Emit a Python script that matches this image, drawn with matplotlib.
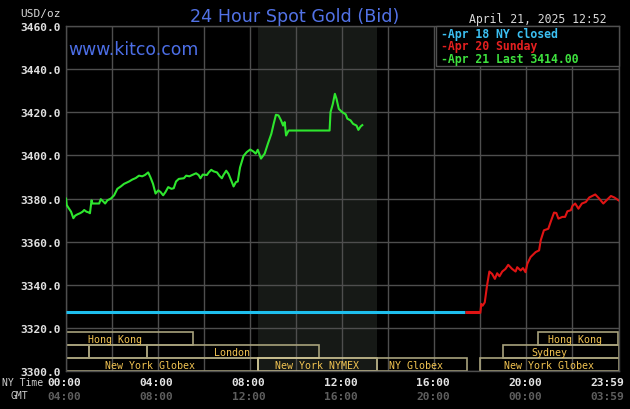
import matplotlib
matplotlib.use("Agg")
import matplotlib.pyplot as plt
from matplotlib.patches import Rectangle
import matplotlib.transforms as mtransforms

# ---------------- data ----------------
cyan_h = [0.0, 17.33]
cyan_p = [3327.3, 3327.3]

red_h = [17.33, 18.0, 18.04, 18.10, 18.19, 18.29, 18.39, 18.51, 18.63, 18.73, 18.83, 18.95,
         19.09, 19.21, 19.38, 19.53, 19.60, 19.75, 19.85, 19.96, 20.04, 20.18, 20.40, 20.55,
         20.62, 20.76, 20.95, 21.05, 21.20, 21.30, 21.39, 21.56, 21.68, 21.78, 21.93, 22.0,
         22.12, 22.26, 22.41, 22.58, 22.73, 22.99, 23.16, 23.34, 23.48, 23.67, 23.82, 24.0]
red_p = [3327.3, 3327.3, 3331.2, 3330.4, 3331.9, 3339.7, 3346.2, 3345.1, 3342.8, 3345.4, 3344.0, 3346.2,
         3347.4, 3349.3, 3347.4, 3346.2, 3348.2, 3346.7, 3347.8, 3345.9, 3349.8, 3352.9, 3355.2, 3356.0,
         3360.6, 3365.3, 3366.0, 3369.1, 3373.5, 3373.3, 3370.7, 3371.5, 3371.5, 3374.1, 3374.6, 3376.6,
         3377.7, 3375.3, 3377.7, 3378.4, 3380.5, 3381.9, 3380.0, 3377.7, 3379.2, 3381.2, 3380.5, 3379.2]

green_h = [0.0, 0.03, 0.12, 0.22, 0.32, 0.40, 0.50, 0.61, 0.72, 0.79, 0.89, 0.98, 1.04, 1.11, 1.15,
           1.30, 1.44, 1.51, 1.63, 1.70, 1.80, 1.95, 2.09, 2.23, 2.38, 2.52, 2.74, 2.88, 3.03, 3.17,
           3.31, 3.43, 3.57, 3.67, 3.78, 3.89, 4.01, 4.11, 4.22, 4.32, 4.44, 4.58, 4.68, 4.78, 4.90,
           5.12, 5.22, 5.36, 5.48, 5.65, 5.76, 5.84, 5.94, 6.12, 6.20, 6.31, 6.41, 6.56, 6.66, 6.77,
           6.84, 6.96, 7.06, 7.18, 7.28, 7.38, 7.46, 7.56, 7.71, 7.85, 8.0, 8.14, 8.24, 8.33, 8.47,
           8.63, 8.77, 8.92, 9.02, 9.12, 9.23, 9.34, 9.43, 9.50, 9.56, 9.67, 11.45, 11.49, 11.59,
           11.68, 11.75, 11.85, 12.0, 12.15, 12.22, 12.36, 12.47, 12.62, 12.70, 12.80, 12.87]
green_p = [3380.0, 3377.0, 3375.5, 3373.9, 3370.9, 3372.1, 3372.7, 3373.2, 3373.9, 3374.7, 3373.9, 3373.6,
           3373.2, 3379.2, 3377.7, 3377.7, 3377.7, 3379.7, 3378.5, 3377.7, 3379.2, 3380.0, 3381.5, 3384.5,
           3385.6, 3386.8, 3387.9, 3388.8, 3389.5, 3390.6, 3390.3, 3390.9, 3392.1, 3389.8, 3386.8, 3382.3,
           3383.8, 3383.0, 3381.5, 3383.0, 3385.3, 3384.5, 3384.8, 3387.9, 3389.1, 3389.4, 3390.6, 3390.3,
           3390.9, 3391.7, 3390.9, 3389.4, 3391.1, 3390.9, 3392.1, 3393.3, 3392.6, 3392.1, 3390.6, 3389.4,
           3390.9, 3392.9, 3391.4, 3388.3, 3385.6, 3387.6, 3387.9, 3394.4, 3399.7, 3401.5, 3402.7, 3401.8,
           3400.8, 3402.6, 3398.5, 3400.8, 3405.4, 3410.0, 3414.6, 3418.8, 3418.5, 3416.2, 3413.8, 3415.4,
           3409.2, 3411.5, 3411.5, 3420.0, 3423.8, 3428.5, 3426.2, 3421.5, 3420.0, 3419.0, 3417.0, 3416.2,
           3414.6, 3413.8, 3411.8, 3413.4, 3414.0]

y_ticks = [3300, 3320, 3340, 3360, 3380, 3400, 3420, 3440, 3460]
ny_ticks = [0, 4, 8, 12, 16, 20, 24]
ny_labels = ["00:00", "04:00", "08:00", "12:00", "16:00", "20:00", "23:59"]
gmt_labels = ["04:00", "08:00", "12:00", "16:00", "20:00", "00:00", "03:59"]

legend_labels = ["Apr 18 NY closed", "Apr 20 Sunday", "Apr 21 Last 3414.00"]

session_names = ["Hong Kong", "", "", "London", "New York Globex", "New York NYMEX",
                 "NY Globex", "New York Globex", "Sydney", "Hong Kong"]
session_rows = [2, 1, 1, 1, 0, 0, 0, 0, 1, 2]
session_start = [0.0, 0.0, 1.0, 3.5, 0.0, 8.333, 13.5, 18.0, 19.0, 20.5]
session_end = [5.5, 1.0, 3.5, 11.0, 8.333, 13.5, 17.4, 24.0, 24.0, 24.0]
session_label_at = [2.13, 0, 0, 7.2, 3.66, 10.92, 15.2, 21.0, 21.0, 22.1]

nymex_span = (8.333, 13.5)

# ---------------- figure ----------------
W, H = 630, 410
fig = plt.figure(figsize=(6.3, 4.1), dpi=100, facecolor="#000000")

def fx(px):
    return px / W

def fy(py):
    return 1 - py / H

ax_l, ax_r, ax_t, ax_b = 66, 618.5, 26.8, 372.3
ax = fig.add_axes([fx(ax_l), fy(ax_b), (ax_r - ax_l) / W, (ax_b - ax_t) / H])
ax.set_facecolor("#000000")
ax.set_xlim(0, 24)
ax.set_ylim(3300, 3460)

grid_c = "#4e4e4e"
for s in ax.spines.values():
    s.set_color(grid_c)
    s.set_linewidth(1.0)

ax.set_xticks(range(0, 25, 2))
ax.set_xticklabels([])
ax.set_yticks(y_ticks)
ax.set_yticklabels([f"{v:.1f}" for v in y_ticks])
ax.tick_params(axis="both", length=0)
ax.tick_params(axis="y", pad=3.6, labelcolor="#e0e0e0", labelsize=8.1)
for lab in ax.get_yticklabels():
    lab.set_fontfamily("DejaVu Sans Mono")
    lab.set_fontweight("bold")
ax.grid(True, color=grid_c, linewidth=1.0, zorder=1)
ax.set_axisbelow(True)

ax.axvspan(nymex_span[0], nymex_span[1], color="#161916", zorder=0.5, lw=0)

# session boxes
row_h = 6.03
for name, r, s, e, la in zip(session_names, session_rows, session_start, session_end, session_label_at):
    y0 = 3300 + r * row_h
    ec = "#cfc595" if name == "New York NYMEX" else "#a8a27c"
    ax.add_patch(Rectangle((s, y0), e - s, row_h, fill=False, edgecolor=ec, lw=1.2, zorder=2,
                           clip_on=True))
    if name:
        ax.text(la, y0 + row_h / 2, name, ha="center", va="center", color="#f2c452",
                fontsize=7.2, family="DejaVu Sans Mono", zorder=3)

# data lines
ax.plot(cyan_h, cyan_p, color="#1ebfee", lw=2.2, solid_capstyle="butt", zorder=4)
ax.plot(red_h[:2], red_p[:2], color="#e01414", lw=2.2, solid_capstyle="butt", zorder=4)
ax.plot(red_h[1:], red_p[1:], color="#e01414", lw=1.5, zorder=4)
ax.plot(green_h, green_p, color="#2ee62e", lw=1.5, zorder=4)

# legend box
ax.add_patch(Rectangle((0.670, 0.885), 0.331, 0.115, transform=ax.transAxes,
                       facecolor="#000000", edgecolor="#505050", lw=1.0, zorder=5, clip_on=False))
leg_cols = ["#3cc0f2", "#e52020", "#3ee23e"]
leg_y = [34.5, 46.5, 59]
for t, c, yy in zip(legend_labels, leg_cols, leg_y):
    fig.text(fx(441), fy(yy), "-" + t, color=c, fontsize=8.3, family="DejaVu Sans Mono",
             fontweight="bold", ha="left", va="center", zorder=6)

# x labels
trans = mtransforms.blended_transform_factory(ax.transData, ax.transAxes)
for i, (h, nl, gl) in enumerate(zip(ny_ticks, ny_labels, gmt_labels)):
    ha = "right" if i == len(ny_ticks) - 1 else "center"
    dx = 6 * 0.72 if ha == "right" else -1.5 * 0.72
    ax.annotate(nl, xy=(h, 0), xycoords=trans, xytext=(dx, -10.4 * 0.72), textcoords="offset points",
                ha=ha, va="center", color="#e4e4e4", fontsize=8.1, family="DejaVu Sans Mono",
                fontweight="bold", annotation_clip=False)
    ax.annotate(gl, xy=(h, 0), xycoords=trans, xytext=(dx, -24.7 * 0.72), textcoords="offset points",
                ha=ha, va="center", color="#5e5e5e", fontsize=8.1, family="DejaVu Sans Mono",
                fontweight="bold", annotation_clip=False)

fig.text(fx(2.5), fy(383), "NY Time", color="#d0d0d0", fontsize=7.0, family="DejaVu Sans Mono",
         ha="left", va="center")
fig.text(fx(10.5), fy(396.5), "GMT", color="#d0d0d0", fontsize=7.0, family="DejaVu Sans Mono",
         ha="left", va="center")

# header texts
fig.text(fx(20), fy(13.5), "USD/oz", color="#d8d8d8", fontsize=8.0, family="DejaVu Sans Mono",
         ha="left", va="center")
fig.text(fx(295), fy(21.5), "24 Hour Spot Gold (Bid)", color="#5272e6", fontsize=12.6,
         family="DejaVu Sans", ha="center", va="baseline")
fig.text(fx(68), fy(55), "www.kitco.com", color="#4c6ee6", fontsize=12.4,
         family="DejaVu Sans", ha="left", va="baseline", zorder=6)
fig.text(fx(469), fy(20), "April 21, 2025 12:52", color="#d8d8d8", fontsize=8.3,
         family="DejaVu Sans Mono", ha="left", va="center")

fig.savefig("out.png", dpi=100, facecolor=fig.get_facecolor())
